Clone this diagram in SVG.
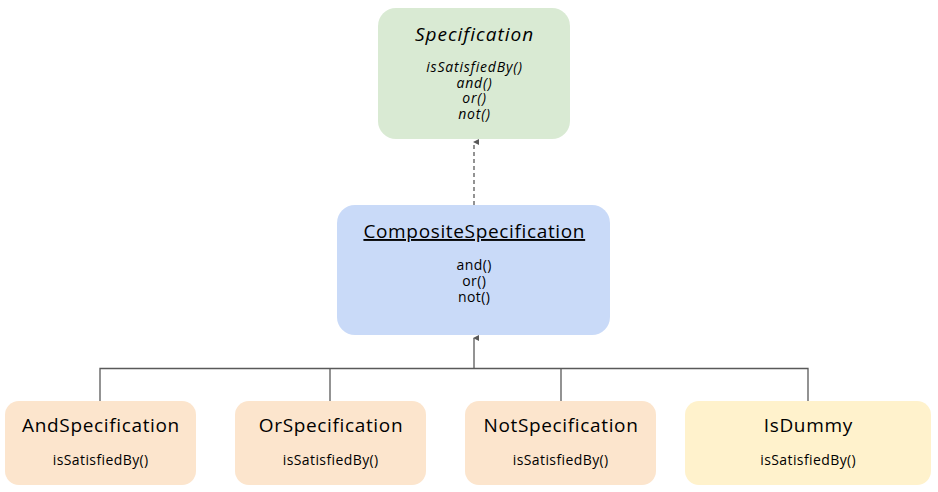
<svg xmlns="http://www.w3.org/2000/svg" width="938" height="492" viewBox="0 0 938 492">
<defs>
<style>
text{font-family:"Open Sans","Noto Sans",sans-serif;fill:#000;text-anchor:middle}
.t{font-size:19px;letter-spacing:0.65px}
.m{font-size:14px;letter-spacing:0.4px}
.i{font-style:italic}
.mi{font-size:14px;letter-spacing:0.8px}
.ti{letter-spacing:1px}
.ln{fill:none;stroke:#595959;stroke-width:1.3}
</style>
<marker id="ah" viewBox="0 0 6 8" refX="3" refY="1" markerWidth="6" markerHeight="8" markerUnits="userSpaceOnUse" orient="auto-start-reverse">
<path d="M0,6 L3,0 L6,6 Z" fill="#595959"/>
</marker>
</defs>
<g id="connectors">
<path class="ln" d="M474,205 V142" stroke-dasharray="4,3" marker-end="url(#ah)"/>
<path class="ln" d="M100,401 V368.5 H808 V401 M330,368.5 V401 M561,368.5 V401"/>
<path class="ln" d="M474,368.5 V338" stroke-width="2" marker-end="url(#ah)"/>
</g>
<g id="specification">
<rect x="378" y="8" width="192" height="131" rx="18" fill="#d9ead3"/>
<text class="t i ti" x="474.5" y="41">Specification</text>
<text class="mi i" x="474.5" y="72">isSatisfiedBy()</text>
<text class="mi i" x="474.5" y="87.5">and()</text>
<text class="mi i" x="474.5" y="103">or()</text>
<text class="mi i" x="474.5" y="118.5">not()</text>
</g>
<g id="composite">
<rect x="337" y="205" width="273" height="130" rx="18" fill="#c9daf8"/>
<text class="t" x="474.3" y="238" text-decoration="underline">CompositeSpecification</text>
<text class="m" x="474.2" y="270">and()</text>
<text class="m" x="474.2" y="286">or()</text>
<text class="m" x="474.2" y="302">not()</text>
</g>
<g id="and">
<rect x="5" y="401" width="191" height="84" rx="14" fill="#fce5cd"/>
<text class="t" x="101" y="432">AndSpecification</text>
<text class="m" x="100.7" y="465">isSatisfiedBy()</text>
</g>
<g id="or">
<rect x="235" y="401" width="191" height="84" rx="14" fill="#fce5cd"/>
<text class="t" x="331" y="432">OrSpecification</text>
<text class="m" x="330.7" y="465">isSatisfiedBy()</text>
</g>
<g id="not">
<rect x="465" y="401" width="191" height="84" rx="14" fill="#fce5cd"/>
<text class="t" x="561" y="432">NotSpecification</text>
<text class="m" x="560.7" y="465">isSatisfiedBy()</text>
</g>
<g id="dummy">
<rect x="685" y="401" width="246" height="84" rx="14" fill="#fff2cc"/>
<text class="t" x="808.3" y="432">IsDummy</text>
<text class="m" x="808.2" y="465">isSatisfiedBy()</text>
</g>
</svg>
